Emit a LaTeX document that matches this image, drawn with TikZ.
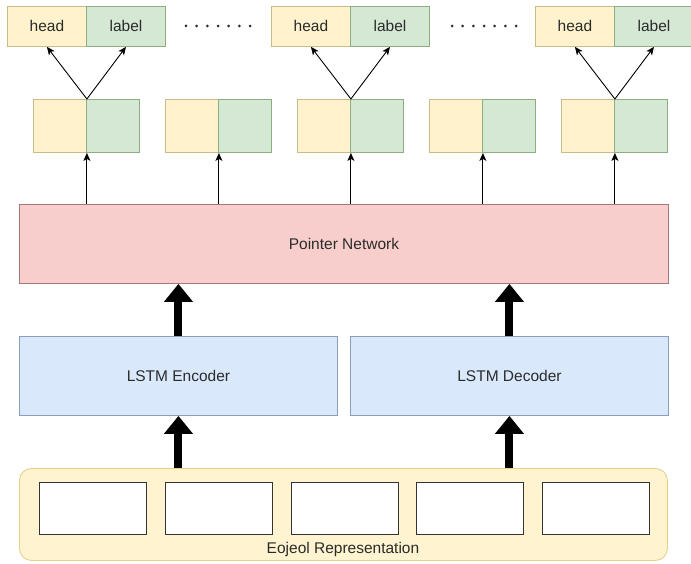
\documentclass[tikz,border=0pt]{standalone}
\usepackage{fontspec}
\setmainfont{Liberation Sans}
\usetikzlibrary{arrows.meta,calc}
\definecolor{yfill}{HTML}{FFF2CC}
\definecolor{ydraw}{HTML}{C8BC8A}
\definecolor{gfill}{HTML}{D5E8D4}
\definecolor{gdraw}{HTML}{8FAE80}
\definecolor{rfill}{HTML}{F8CECC}
\definecolor{rdraw}{HTML}{A87878}
\definecolor{bfill}{HTML}{DAE8FC}
\definecolor{bdraw}{HTML}{8C9CBC}
\definecolor{eofill}{HTML}{FFF4CF}
\definecolor{eodraw}{HTML}{E2D08E}
\definecolor{innerdraw}{HTML}{333333}
\definecolor{txt}{HTML}{2B2B2B}
\begin{document}
\begin{tikzpicture}[x=1pt,y=-1pt,
  box/.style={draw, line width=0.9pt, inner sep=0pt, anchor=north west,
    font=\fontsize{15.5}{18}\selectfont, text=txt},
  ybox/.style={box, fill=yfill, draw=ydraw},
  gbox/.style={box, fill=gfill, draw=gdraw},
  thinarrow/.style={draw=black, line width=0.9pt, -{Stealth[length=8pt,width=7pt,inset=2pt]}},
  thickarrow/.style={draw=black, line width=8pt, -{Triangle[length=18pt,width=28pt]}},
]
\useasboundingbox (0,0) rectangle (691,564);

% top pairs
\foreach \i/\c in {1/86,2/350,3/614} {
  \node[ybox, minimum width=79pt, minimum height=40pt] (h\i) at (\c-79,6) {head};
  \node[gbox, minimum width=79pt, minimum height=40pt] (l\i) at (\c,6) {label};
}

% dots
\foreach \k in {0,...,6} {
  \fill[txt] ({186+10.67*\k},26) circle (1.5);
  \fill[txt] ({452+10.67*\k},26) circle (1.5);
}

% middle boxes
\foreach \i in {1,...,5} {
  \pgfmathsetmacro{\c}{86+132*(\i-1)}
  \node[ybox, minimum width=53pt, minimum height=53pt] (my\i) at (\c-53,99) {};
  \node[gbox, minimum width=53pt, minimum height=53pt] (mg\i) at (\c,99) {};
}

% pointer network
\node[box, fill=rfill, draw=rdraw, minimum width=649pt, minimum height=79pt] (pn) at (19,204) {Pointer Network};

% LSTMs
\node[box, fill=bfill, draw=bdraw, minimum width=318pt, minimum height=79pt] (enc) at (19,336) {LSTM Encoder};
\node[box, fill=bfill, draw=bdraw, minimum width=318pt, minimum height=79pt] (dec) at (350,336) {LSTM Decoder};

% Eojeol representation
\node[box, rounded corners=12pt, fill=eofill, draw=eodraw, minimum width=648pt, minimum height=92pt] (eoj) at (19,468) {};
\foreach \i in {0,...,4} {
  \node[box, fill=white, draw=innerdraw, line width=1.2pt, minimum width=107pt, minimum height=52pt] (e\i) at ({39+125.75*\i},482) {};
}
\node[font=\fontsize{15.5}{18}\selectfont, text=txt, inner sep=0pt] (eojt) at (343,549) {Eojeol Representation};

% thin arrows
\foreach \i in {1,...,5} {
  \draw[thinarrow] (my\i.south east |- pn.north) -- (my\i.south east);
}
\foreach \i/\j in {1/1,2/3,3/5} {
  \draw[thinarrow] (my\j.north east) -- (h\i.south);
  \draw[thinarrow] (my\j.north east) -- (l\i.south);
}

% thick arrows
\draw[thickarrow] (enc.north) -- (enc.north |- pn.south);
\draw[thickarrow] (dec.north) -- (dec.north |- pn.south);
\draw[thickarrow] (enc.south |- eoj.north) -- (enc.south);
\draw[thickarrow] (dec.south |- eoj.north) -- (dec.south);
\end{tikzpicture}
\end{document}
